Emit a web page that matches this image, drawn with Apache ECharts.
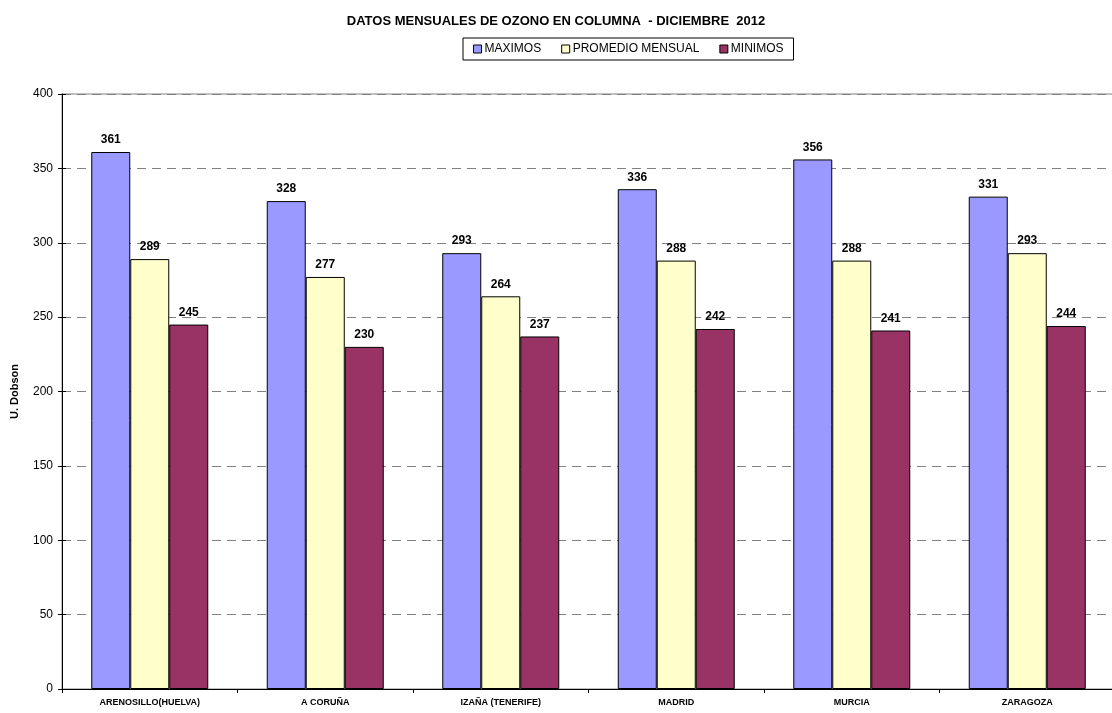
<!DOCTYPE html>
<html>
<head>
<meta charset="utf-8">
<script src="https://cdn.jsdelivr.net/npm/echarts@6/dist/echarts.min.js"></script>
<style>
html,body{margin:0;padding:0;background:#fff;}
#main{width:1112px;height:713px;}
</style>
</head>
<body>
<div id="main"></div>
<script>
var estaciones = ['ARENOSILLO(HUELVA)', 'A CORUÑA', 'IZAÑA (TENERIFE)', 'MADRID', 'MURCIA', 'ZARAGOZA'];
var maximos = [361, 328, 293, 336, 356, 331];
var promedio = [289, 277, 264, 288, 288, 293];
var minimos = [245, 230, 237, 242, 241, 244];

var dom = document.getElementById("main");
var myChart = echarts.init(dom);

var etiqueta = {
    show: true,
    position: 'top',
    distance: 6,
    color: '#000',
    fontFamily: 'Arial',
    fontWeight: 'bold',
    fontSize: 12
};

function serie(nombre, datos, color) {
    return {
        name: nombre,
        type: 'bar',
        data: datos,
        barGap: '0%',
        barWidth: 39,
        itemStyle: { color: color, borderColor: '#000', borderWidth: 1 },
        label: etiqueta
    };
}

var option = {
    animation: false,
    backgroundColor: '#fff',
    textStyle: { fontFamily: 'Arial' },
    title: {
        text: 'DATOS MENSUALES DE OZONO EN COLUMNA  - DICIEMBRE  2012',
        left: 'center',
        top: 10,
        textStyle: { fontFamily: 'Arial', fontWeight: 'bold', fontSize: 13, color: '#000' }
    },
    legend: {
        top: 38,
        left: 463,
        itemWidth: 8,
        itemHeight: 8,
        itemGap: 20,
        padding: [5, 10, 5, 10],
        borderColor: '#000',
        borderWidth: 1,
        icon: 'rect',
        textStyle: { fontFamily: 'Arial', fontSize: 12, color: '#000', padding: [0, 0, 0, -2] },
        data: [
            { name: 'MAXIMOS', itemStyle: { borderColor: '#000', borderWidth: 1 } },
            { name: 'PROMEDIO MENSUAL', itemStyle: { borderColor: '#000', borderWidth: 1 } },
            { name: 'MINIMOS', itemStyle: { borderColor: '#000', borderWidth: 1 } }
        ]
    },
    grid: {
        left: 62,
        top: 94,
        width: 1053,
        bottom: 24,
        outerBoundsMode: 'none',
        containLabel: false,
        show: true,
        borderColor: '#808080',
        borderWidth: 1
    },
    xAxis: {
        type: 'category',
        data: estaciones,
        axisLine: { lineStyle: { color: '#000', width: 1 } },
        axisTick: { show: true, alignWithLabel: false, length: 4, lineStyle: { color: '#000' } },
        axisLabel: { interval: 0, fontFamily: 'Arial', fontWeight: 'bold', fontSize: 9, color: '#000', margin: 9 }
    },
    yAxis: [{
        type: 'value',
        min: 0,
        max: 400,
        interval: 50,
        name: 'U. Dobson',
        nameLocation: 'middle',
        nameGap: 42,
        nameTextStyle: { fontFamily: 'Arial', fontWeight: 'bold', fontSize: 11, color: '#000' },
        axisLine: { show: true, lineStyle: { color: '#000', width: 1 } },
        axisTick: { show: true, length: 4, lineStyle: { color: '#000' } },
        axisLabel: { fontFamily: 'Arial', fontSize: 12, color: '#000', margin: 9 },
        splitLine: { show: true, lineStyle: { color: '#808080', type: [9, 6], width: 1 } }
    }, {
        // marcas interiores para que las rayas crucen el eje
        type: 'value',
        position: 'left',
        min: 0,
        max: 400,
        interval: 50,
        axisLine: { show: false },
        axisTick: { show: true, inside: true, length: 4, lineStyle: { color: '#000' } },
        axisLabel: { show: false },
        splitLine: { show: false }
    }],
    series: [
        serie('MAXIMOS', maximos, '#9999FF'),
        serie('PROMEDIO MENSUAL', promedio, '#FFFFCC'),
        serie('MINIMOS', minimos, '#993366')
    ]
};

myChart.setOption(option, true);
</script>
</body>
</html>
